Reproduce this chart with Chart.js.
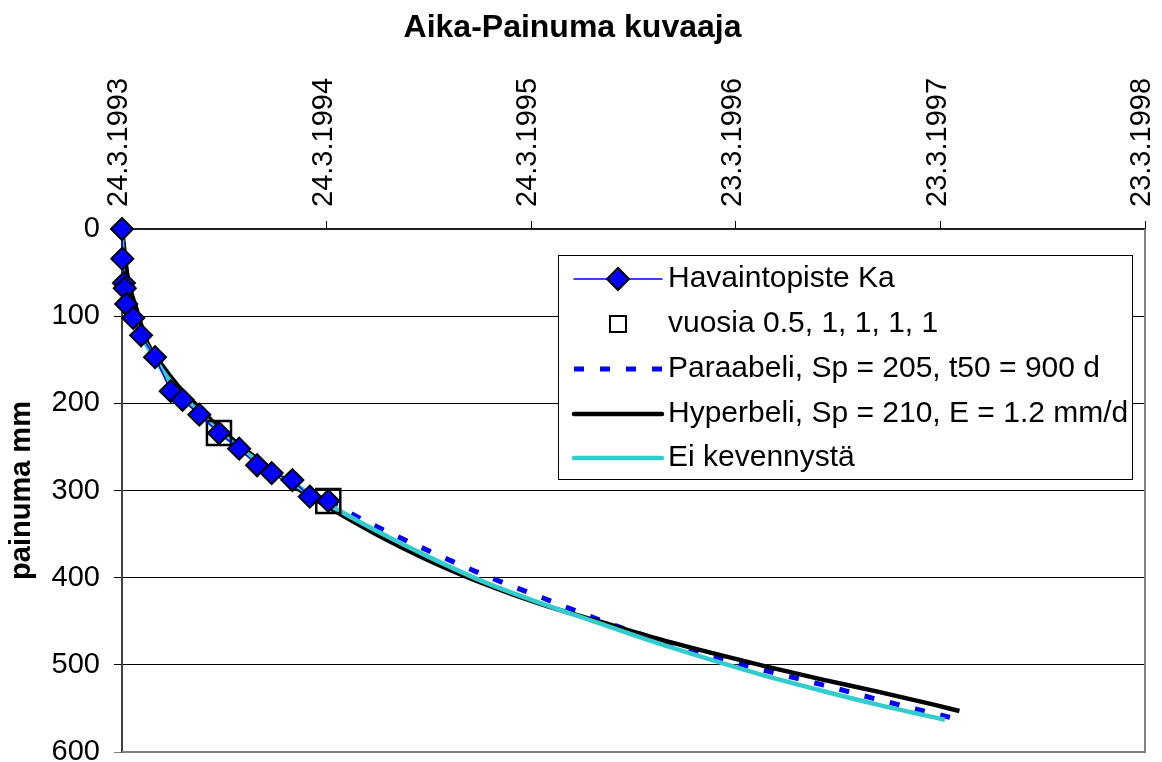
<!DOCTYPE html>
<html>
<head>
<meta charset="utf-8">
<script src="https://cdn.jsdelivr.net/npm/chart.js@4"></script>
<style>
  html, body { margin: 0; padding: 0; background: #fff; }
  #wrap { width: 1162px; height: 762px; }
</style>
</head>
<body>
<div id="wrap"><canvas id="chart" width="1162" height="762"></canvas></div>
<script>
// --- data (days since 24.3.1993, settlement in mm) ---
const tickDays = [0, 365, 730, 1095, 1460, 1825];
const tickLabels = ['24.3.1993', '24.3.1994', '24.3.1995', '23.3.1996', '23.3.1997', '23.3.1998'];

const obsDays = [0, 0.5, 3.5, 5, 7.5, 20, 34, 59, 87, 108, 138, 173, 209, 241, 267, 304, 335, 368];
const obsMm = [0, 34, 62, 68, 86, 102, 122, 147, 186, 196, 213, 234, 252, 271, 280, 288, 307, 312];

const yearDays = [173, 368];
const yearMm = [234, 312];

const paraDays = [0, 1, 10, 30, 60, 100, 150, 200, 250, 300, 365, 450, 550, 650, 750, 850, 950, 1050, 1150, 1250, 1350, 1450, 1494];
const paraMm = [0, 55, 80, 110, 145, 183, 218, 246, 270, 291, 312, 340, 370, 398, 423, 448, 470, 490, 507, 523, 540, 556, 563];

const hypDays = [0, 10, 25, 45, 70, 100, 130, 165, 200, 250, 300, 365, 450, 550, 650, 750, 850, 950, 1050, 1150, 1250, 1350, 1450, 1494];
const hypMm = [0, 55, 90, 130, 155, 180, 200, 223, 243, 268, 292, 318, 349, 381, 408, 431, 450, 469, 486, 502, 517, 531, 546, 553];

const baseDays = [0, 1, 5, 15, 30, 50, 75, 100, 140, 180, 240, 300, 365, 450, 550, 650, 750, 850, 950, 1050, 1150, 1250, 1350, 1468];
const baseMm = [0, 65, 85, 100, 118, 140, 165, 185, 212, 236, 265, 290, 315, 345, 377, 406, 430, 452, 474, 494, 513, 530, 546, 563];

const yTicks = [0, 100, 200, 300, 400, 500, 600];

const FONT = "'Liberation Sans', Arial, sans-serif";

function pts(xs, ys) {
    return xs.map((x, i) => ({ x: x, y: ys[i] }));
}

// legend drawn inside the plot, Excel style
const boxLegend = {
    id: 'boxLegend',
    afterDraw(chart) {
        const ctx = chart.ctx;
        const L = 558, T = 255, R = 1132, B = 479;
        ctx.save();
        ctx.fillStyle = '#fff';
        ctx.fillRect(L, T, R - L, B - T);
        ctx.strokeStyle = '#000';
        ctx.lineWidth = 1;
        ctx.strokeRect(L + 0.5, T + 0.5, R - L, B - T);

        const rows = [279, 324, 369, 414, 458];
        const x0 = 574, x1 = 662, xm = 618;
        ctx.font = '30px ' + FONT;
        ctx.textBaseline = 'middle';
        ctx.textAlign = 'left';

        chart.data.datasets.forEach((ds, i) => {
            const y = rows[i];
            if (ds.showLine !== false) {
                ctx.save();
                ctx.strokeStyle = ds.borderColor;
                ctx.lineWidth = ds.borderWidth;
                ctx.lineCap = ds.borderDash ? 'butt' : 'round';
                ctx.setLineDash(ds.borderDash || []);
                ctx.beginPath();
                ctx.moveTo(x0, y);
                ctx.lineTo(x1, y);
                ctx.stroke();
                ctx.restore();
            }
            if (ds.pointStyle === 'rectRot') {
                ctx.save();
                ctx.fillStyle = ds.pointBackgroundColor;
                ctx.strokeStyle = ds.pointBorderColor;
                ctx.lineWidth = 2;
                ctx.beginPath();
                ctx.moveTo(xm - 11, y);
                ctx.lineTo(xm, y - 11);
                ctx.lineTo(xm + 11, y);
                ctx.lineTo(xm, y + 11);
                ctx.closePath();
                ctx.fill();
                ctx.stroke();
                ctx.restore();
            } else if (ds.pointStyle === 'rect') {
                ctx.save();
                ctx.strokeStyle = '#000';
                ctx.lineWidth = 2;
                ctx.strokeRect(xm - 8, y - 8, 16, 16);
                ctx.restore();
            }
            ctx.fillStyle = '#000';
            ctx.fillText(ds.label, 668, y);
        });
        ctx.restore();
    }
};

// grey frame on right and bottom edge of the plot
const plotFrame = {
    id: 'plotFrame',
    beforeDatasetsDraw(chart) {
        const a = chart.chartArea;
        const ctx = chart.ctx;
        ctx.save();
        ctx.strokeStyle = '#808080';
        ctx.lineWidth = 2;
        ctx.beginPath();
        ctx.moveTo(a.right, a.top);
        ctx.lineTo(a.right, a.bottom);
        ctx.lineTo(a.left, a.bottom);
        ctx.stroke();
        ctx.restore();
    }
};

new Chart(document.getElementById('chart'), {
    type: 'scatter',
    data: {
        datasets: [
            {
                label: 'Havaintopiste Ka',
                data: pts(obsDays, obsMm),
                order: 0,
                showLine: true,
                borderColor: '#0000FF',
                borderWidth: 1.5,
                pointStyle: 'rectRot',
                pointRadius: 11,
                pointBackgroundColor: '#0000FF',
                pointBorderColor: '#000',
                pointBorderWidth: 2,
                clip: false
            },
            {
                label: 'vuosia 0.5, 1, 1, 1, 1',
                data: pts(yearDays, yearMm),
                order: 1,
                showLine: false,
                pointStyle: 'rect',
                pointRadius: 17,
                pointBackgroundColor: 'rgba(0,0,0,0)',
                pointBorderColor: '#000',
                pointBorderWidth: 2.5,
                clip: false
            },
            {
                label: 'Paraabeli, Sp = 205, t50 = 900 d',
                data: pts(paraDays, paraMm),
                order: 4,
                showLine: true,
                borderColor: '#0000FF',
                borderWidth: 5,
                borderDash: [10, 16],
                pointRadius: 0,
                cubicInterpolationMode: 'monotone'
            },
            {
                label: 'Hyperbeli, Sp = 210, E = 1.2 mm/d',
                data: pts(hypDays, hypMm),
                order: 3,
                showLine: true,
                borderColor: '#000',
                borderWidth: 4.5,
                pointRadius: 0,
                cubicInterpolationMode: 'monotone'
            },
            {
                label: 'Ei kevennystä',
                data: pts(baseDays, baseMm),
                order: 2,
                showLine: true,
                borderColor: '#33CCCC',
                borderWidth: 4.5,
                pointRadius: 0,
                cubicInterpolationMode: 'monotone'
            }
        ]
    },
    options: {
        responsive: false,
        animation: false,
        devicePixelRatio: 1,
        layout: { autoPadding: false, padding: { left: 0, right: 17, top: 0, bottom: 10 } },
        plugins: {
            legend: { display: false },
            tooltip: { enabled: false },
            title: {
                display: true,
                text: 'Aika-Painuma kuvaaja',
                color: '#000',
                font: { family: FONT, size: 32, weight: 'bold' },
                padding: { top: 9, bottom: 0 }
            }
        },
        scales: {
            x: {
                type: 'linear',
                position: 'top',
                min: 0,
                max: 1825,
                afterBuildTicks: (scale) => {
                    scale.ticks = tickDays.map(v => ({ value: v }));
                },
                afterFit: (scale) => {
                    scale.height = 181.6;
                    scale.paddingLeft = 0;
                    scale.paddingRight = 0;
                },
                ticks: {
                    autoSkip: false,
                    minRotation: 90,
                    maxRotation: 90,
                    padding: 14,
                    labelOffset: 32,
                    color: '#000',
                    font: { family: FONT, size: 29 },
                    callback: (v) => tickLabels[tickDays.indexOf(v)]
                },
                grid: { drawOnChartArea: false, drawTicks: true, tickLength: 8, color: '#000' },
                border: { display: true, color: '#202020', width: 2 }
            },
            y: {
                type: 'linear',
                reverse: true,
                min: 0,
                max: 600,
                afterBuildTicks: (scale) => {
                    scale.ticks = yTicks.map(v => ({ value: v }));
                },
                afterFit: (scale) => {
                    scale.width = 122;
                    scale.paddingTop = 0;
                    scale.paddingBottom = 0;
                },
                ticks: {
                    padding: 14,
                    color: '#000',
                    font: { family: FONT, size: 29 }
                },
                grid: {
                    color: (c) => (c.tick && c.tick.value === 600 ? '#808080' : '#000'),
                    lineWidth: 1,
                    tickLength: 8
                },
                border: { display: true, color: '#404040', width: 2 },
                title: {
                    display: true,
                    text: 'painuma mm',
                    color: '#000',
                    font: { family: FONT, size: 29, weight: 'bold' },
                    padding: { top: 5, bottom: 0 }
                }
            }
        }
    },
    plugins: [plotFrame, boxLegend]
});
</script>
</body>
</html>
